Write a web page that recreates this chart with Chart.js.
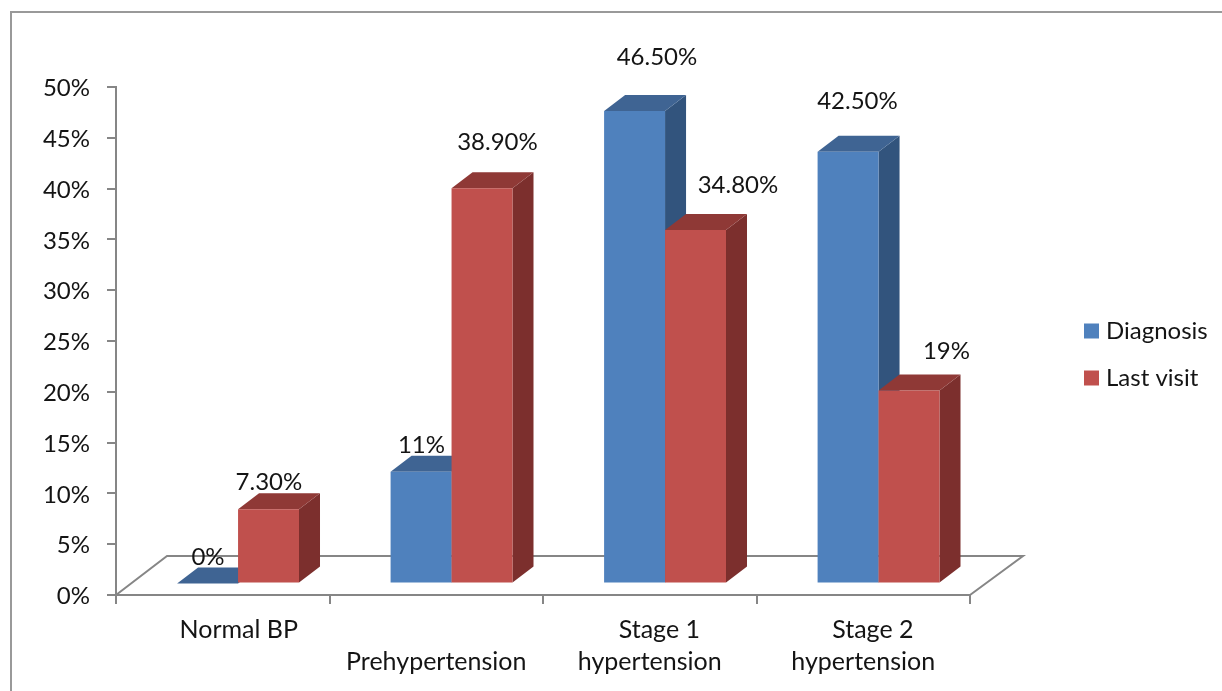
<!DOCTYPE html>
<html>
<head>
<meta charset="utf-8">
<title>Blood pressure stages</title>
<script src="https://cdn.jsdelivr.net/npm/chart.js@4"></script>
<style>
  html, body { margin: 0; padding: 0; width: 1222px; height: 691px; overflow: hidden; background: #fff; }
  #frame { position: absolute; left: 10px; top: 11px; width: 1300px; height: 800px; border-left: 2px solid #999; border-top: 2px solid #999; }
  #chart { position: absolute; left: 0; top: 0; }
</style>
</head>
<body>
<div id="frame"></div>
<canvas id="chart" width="1222" height="691"></canvas>
<script>
// Data
const categories = [['     Normal BP', ''], ['', 'Prehypertension'], ['   Stage 1', 'hypertension'], ['   Stage 2', 'hypertension']];
const diagnosis = [0, 11, 46.5, 42.5];
const lastVisit = [7.3, 38.9, 34.8, 19];
const diagnosisLabels = ['0%', '11%', '46.50%', '42.50%'];
const lastVisitLabels = ['7.30%', '38.90%', '34.80%', '19%'];

// Where each value label sits relative to the top of its bar
const diagnosisLabelOffsets = [[0, -26], [0, -26], [22, -54], [9, -50]];
const lastVisitLabelOffsets = [[0, -27], [15, -46], [42, -45], [37, -39]];

const FONT = { family: 'Lato', size: 24 };
const LABEL_FONT = { family: 'Lato', size: 25, lineHeight: 1.28 };
const TEXT = '#141414';
const AXIS = '#868686';
const SHIFT_X = 15.3, SHIFT_Y = -11.5; // bars stand on the floor, not on the axis
const DEPTH_X = 21, DEPTH_Y = 16;

const faces = [
  { top: '#3f6493', side: '#32547d' },
  { top: '#8f3936', side: '#7c2f2d' }
];
const valueLabels = [diagnosisLabels, lastVisitLabels];
const valueOffsets = [diagnosisLabelOffsets, lastVisitLabelOffsets];

function poly(ctx, color, pts) {
  ctx.fillStyle = color;
  ctx.beginPath();
  pts.forEach((p, i) => i ? ctx.lineTo(p[0], p[1]) : ctx.moveTo(p[0], p[1]));
  ctx.closePath();
  ctx.fill();
}

const bars3d = {
  id: 'bars3d',
  afterLayout(chart) {
    // legend sits right of the plot, at its own place
    const legend = chart.legend;
    legend.left = 1089 - chart.options.plugins.legend.labels.padding;
    legend.top = 296;
    legend.right = 1222;
    legend.bottom = 691;
  },
  beforeDatasetsDraw(chart) {
    const ctx = chart.ctx;
    const x = chart.scales.x, y = chart.scales.y;
    const y0 = y.getPixelForValue(0);

    // floor outline
    const backY = y0 - 39;
    ctx.save();
    ctx.strokeStyle = AXIS;
    ctx.lineWidth = 2;
    ctx.beginPath();
    ctx.moveTo(x.left, y0);
    ctx.lineTo(x.left + 51, backY);
    ctx.lineTo(x.right + 53, backY);
    ctx.lineTo(x.right, y0);
    ctx.stroke();
    ctx.restore();

    // blue first, red on top of its side face
    ctx.save();
    ctx.translate(SHIFT_X, SHIFT_Y);
    [0, 1].forEach(i => {
      chart.getDatasetMeta(i).data.forEach(bar => {
        const l = bar.x - bar.width / 2, r = bar.x + bar.width / 2;
        poly(ctx, faces[i].side, [[r, bar.y], [r + DEPTH_X, bar.y - DEPTH_Y], [r + DEPTH_X, bar.base - DEPTH_Y], [r, bar.base]]);
        poly(ctx, faces[i].top, [[l, bar.y], [l + DEPTH_X, bar.y - DEPTH_Y], [r + DEPTH_X, bar.y - DEPTH_Y], [r, bar.y]]);
        bar.draw(ctx);
      });
    });
    ctx.restore();

    // value labels
    ctx.save();
    ctx.font = FONT.size + 'px ' + FONT.family;
    ctx.fillStyle = TEXT;
    ctx.textAlign = 'center';
    ctx.textBaseline = 'middle';
    [0, 1].forEach(i => {
      chart.getDatasetMeta(i).data.forEach((bar, j) => {
        const off = valueOffsets[i][j];
        ctx.fillText(valueLabels[i][j], bar.x + 15.7 + off[0], bar.y + SHIFT_Y + off[1]);
      });
    });
    ctx.restore();
    return false;
  }
};

new Chart(document.getElementById('chart'), {
  type: 'bar',
  data: {
    labels: categories,
    datasets: [
      { label: 'Diagnosis', data: diagnosis, backgroundColor: '#4f81bd' },
      { label: 'Last visit', data: lastVisit, backgroundColor: '#c0504d' }
    ]
  },
  options: {
    responsive: false,
    animation: false,
    events: [],
    categoryPercentage: 0.571,
    barPercentage: 1,
    layout: { padding: { top: 87, right: 252, left: 0, bottom: 0 } },
    scales: {
      x: {
        afterFit: s => { s.height = 96; },
        border: { color: AXIS, width: 2 },
        grid: { drawOnChartArea: false, color: AXIS, lineWidth: 2, tickLength: 9 },
        ticks: { color: TEXT, font: LABEL_FONT, padding: 10, autoSkip: false, maxRotation: 0 }
      },
      y: {
        min: 0,
        max: 50,
        afterFit: s => { s.width = 116; },
        border: { color: AXIS, width: 2 },
        grid: { drawOnChartArea: false, color: AXIS, lineWidth: 2, tickLength: 9 },
        ticks: { stepSize: 5, color: TEXT, font: FONT, padding: 17, labelOffset: 1.5, callback: v => v + '%' }
      }
    },
    plugins: {
      tooltip: { enabled: false },
      legend: {
        position: 'chartArea',
        align: 'start',
        labels: {
          color: TEXT,
          font: { family: 'Lato', size: 24 },
          boxWidth: 5,
          boxHeight: 5,
          padding: 23,
          // thick stroke round a small box: keeps the text close to the swatch
          generateLabels: chart => chart.data.datasets.map((d, i) => ({
            text: d.label,
            fillStyle: d.backgroundColor,
            strokeStyle: d.backgroundColor,
            lineWidth: 10,
            fontColor: TEXT,
            datasetIndex: i
          }))
        }
      }
    }
  },
  plugins: [bars3d]
});
</script>
</body>
</html>
